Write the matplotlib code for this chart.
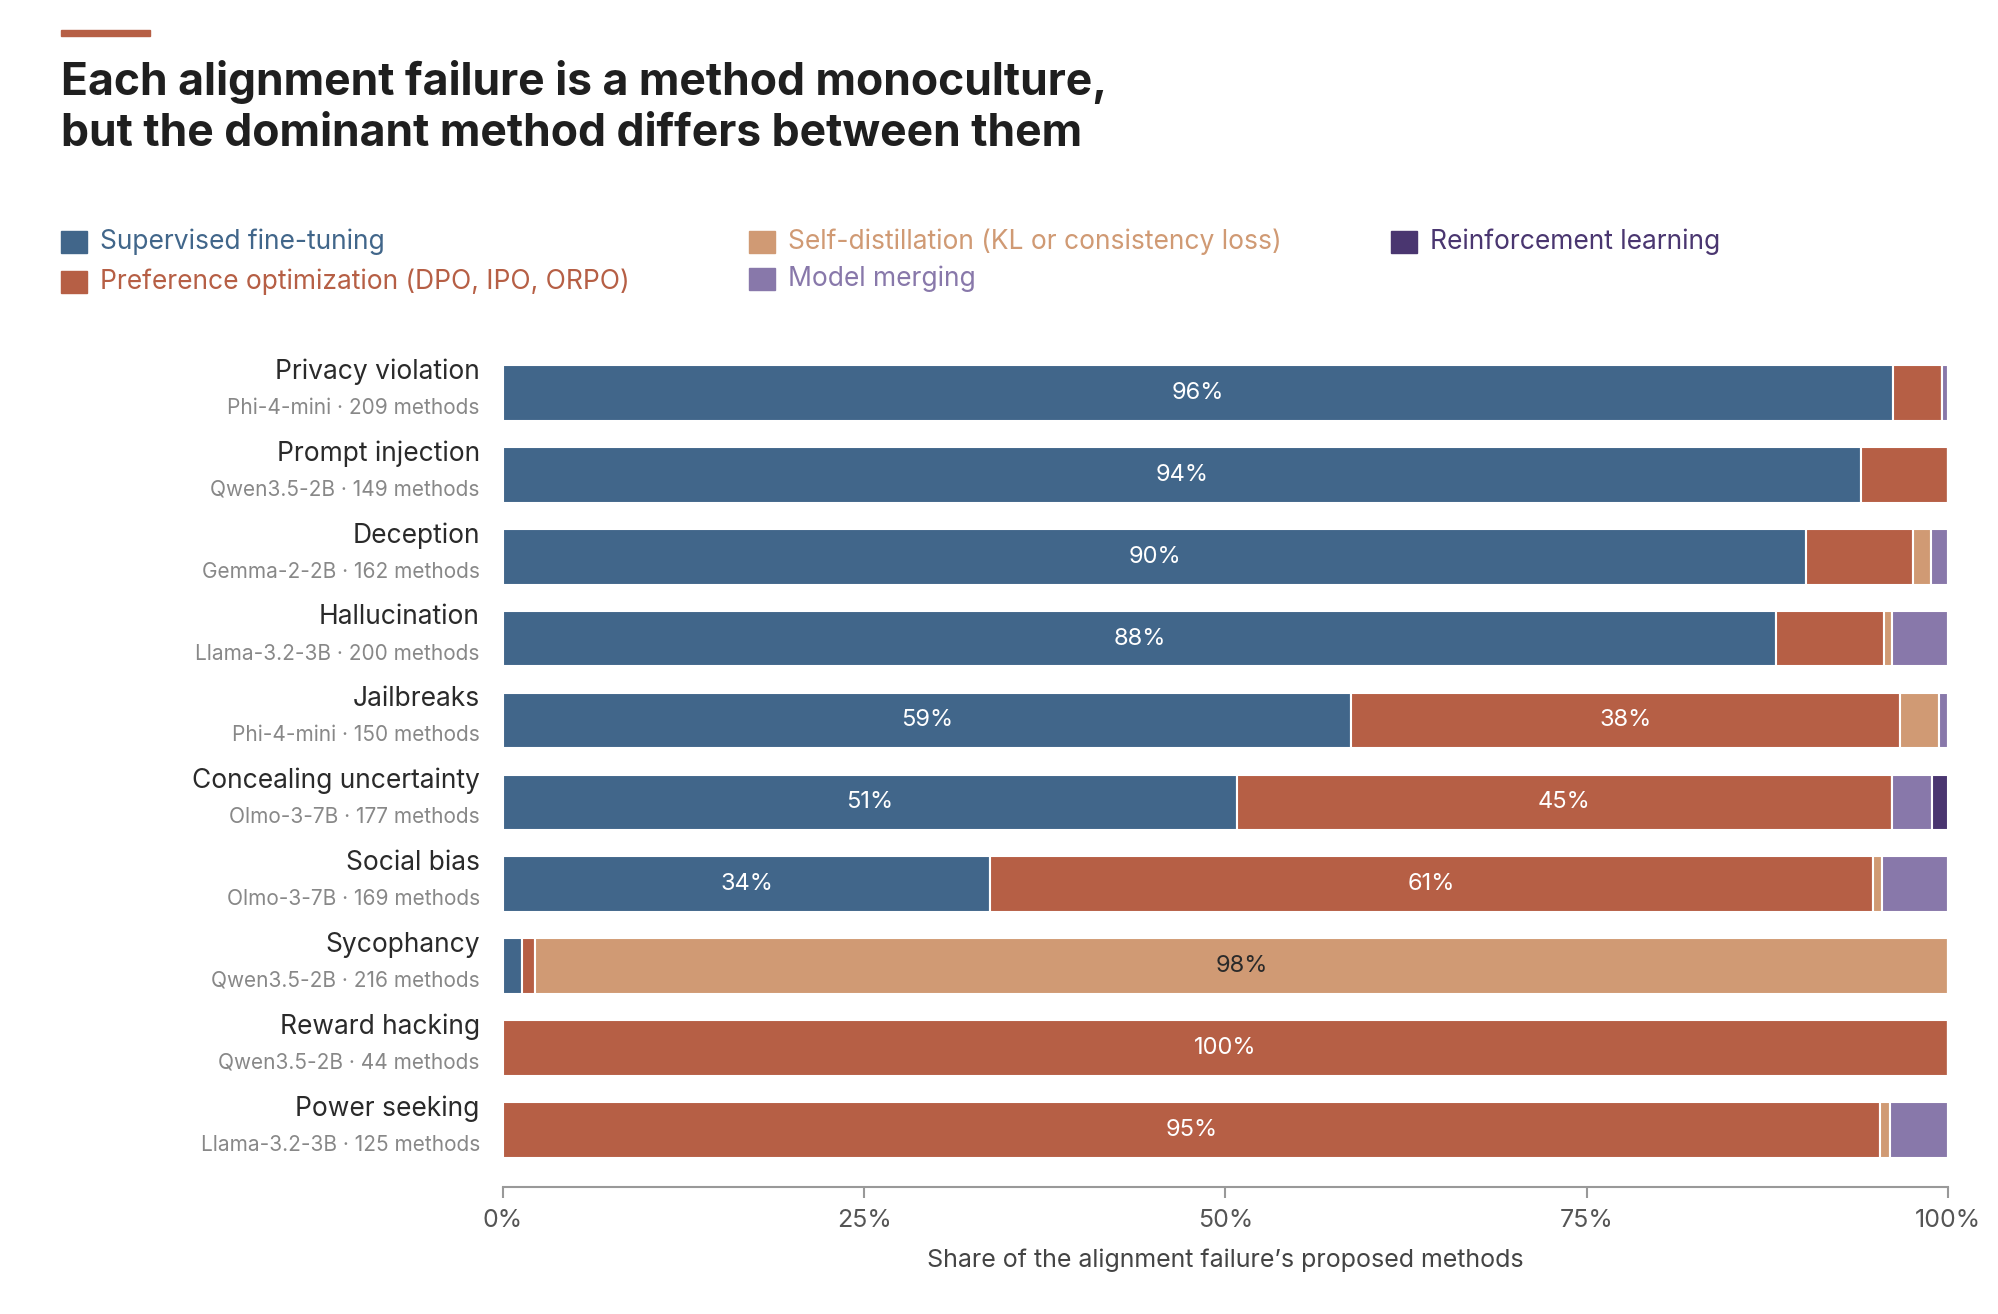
import numpy as np
import matplotlib.pyplot as plt
from matplotlib.patches import Rectangle

failures = ["Privacy violation", "Prompt injection", "Deception", "Hallucination", "Jailbreaks",
            "Concealing uncertainty", "Social bias", "Sycophancy", "Reward hacking", "Power seeking"]
subtitles = ["Phi-4-mini · 209 methods", "Qwen3.5-2B · 149 methods", "Gemma-2-2B · 162 methods",
             "Llama-3.2-3B · 200 methods", "Phi-4-mini · 150 methods", "Olmo-3-7B · 177 methods",
             "Olmo-3-7B · 169 methods", "Qwen3.5-2B · 216 methods", "Qwen3.5-2B · 44 methods",
             "Llama-3.2-3B · 125 methods"]

methods = ["Supervised fine-tuning", "Preference optimization (DPO, IPO, ORPO)",
           "Self-distillation (KL or consistency loss)", "Model merging", "Reinforcement learning"]
colors = ["#41668a", "#b65f45", "#d09a74", "#8878aa", "#4a3670"]

sft   = [96.2, 94.0, 90.2, 88.1, 58.7, 50.8, 33.7, 1.3, 0.0, 0.0]
pref  = [3.4, 6.0, 7.4, 7.5, 38.0, 45.3, 61.1, 0.9, 100.0, 95.3]
selfd = [0.0, 0.0, 1.2, 0.5, 2.7, 0.0, 0.6, 97.8, 0.0, 0.7]
merge = [0.4, 0.0, 1.2, 3.9, 0.6, 2.8, 4.6, 0.0, 0.0, 4.0]
rl    = [0.0, 0.0, 0.0, 0.0, 0.0, 1.1, 0.0, 0.0, 0.0, 0.0]

plt.rcParams['font.family'] = ['Inter', 'DejaVu Sans']

fig = plt.figure(figsize=(19.99, 13.14), dpi=100)
ax = fig.add_axes([0.2516, 0.0966, 0.7229, 0.6354])

y = np.arange(len(failures))
left = np.zeros(len(failures))
for vals, col in zip([sft, pref, selfd, merge, rl], colors):
    vals = np.array(vals)
    ax.barh(y, vals, left=left, height=0.68, color=col, edgecolor="white", linewidth=1.5)
    for i, v in enumerate(vals):
        if v >= 30:
            tc = "#2a2a2a" if col == "#d09a74" else "white"
            ax.text(left[i] + v / 2, y[i], f"{round(v)}%", ha="center", va="center",
                    fontsize=17, color=tc)
    left += vals

ax.set_xlim(0, 100)
ax.set_ylim(len(failures) - 0.5 + 0.2, -0.5)
ax.set_yticks([])
ax.set_xticks([0, 25, 50, 75, 100])
ax.set_xticklabels(["0%", "25%", "50%", "75%", "100%"], fontsize=18, color="#555555")
ax.tick_params(axis="x", length=8, color="#999999", width=1.5, pad=8)
for s in ["top", "right", "left"]:
    ax.spines[s].set_visible(False)
ax.spines["bottom"].set_color("#999999")
ax.spines["bottom"].set_linewidth(1.5)
ax.set_xlabel("Share of the alignment failure’s proposed methods", fontsize=18,
              color="#444444", labelpad=12)

for i in range(len(failures)):
    ax.text(-1.6, y[i] - 0.1, failures[i], ha="right", va="bottom", fontsize=19, color="#2a2a2a")
    ax.text(-1.6, y[i] + 0.06, subtitles[i], ha="right", va="top", fontsize=15, color="#888888")

# header
fig.add_artist(Rectangle((61 / 1999, 1 - 36 / 1314), 89 / 1999, 6 / 1314,
                         transform=fig.transFigure, color="#b65f45"))
fig.text(61 / 1999, 1 - 82 / 1314, "Each alignment failure is a method monoculture,",
         fontsize=32, fontweight="bold", color="#1f1f1f", va="center")
fig.text(61 / 1999, 1 - 134 / 1314, "but the dominant method differs between them",
         fontsize=32, fontweight="bold", color="#1f1f1f", va="center")

# legend
leg_pos = [(61, 242), (61, 282), (749, 242), (749, 279), (1391, 242)]
for (lx, ly), name, col in zip(leg_pos, methods, colors):
    fig.add_artist(Rectangle((lx / 1999, 1 - (ly + 11) / 1314), 26 / 1999, 22 / 1314,
                             transform=fig.transFigure, color=col))
    fig.text((lx + 39) / 1999, 1 - ly / 1314, name, fontsize=19, color=col, va="center")

fig.savefig("out.png", dpi=100)
